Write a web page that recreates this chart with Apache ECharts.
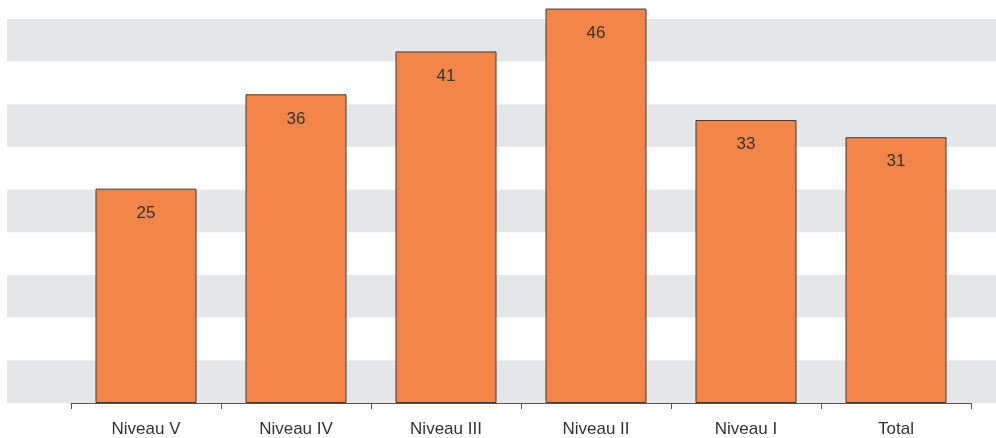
<!DOCTYPE html>
<html>
<head>
<meta charset="utf-8">
<script src="https://cdn.jsdelivr.net/npm/echarts@6/dist/echarts.min.js"></script>
<style>html,body{margin:0;padding:0;background:#fff;}#c{width:996px;height:438px;}</style>
</head>
<body>
<div id="c"></div>
<script>
var categories = ['Niveau V', 'Niveau IV', 'Niveau III', 'Niveau II', 'Niveau I', 'Total'];
var values = [25, 36, 41, 46, 33, 31];
var FONT = '"Liberation Sans Narrow", "Arial Narrow", "Liberation Sans", sans-serif';

var chart = echarts.init(document.getElementById('c'));
chart.setOption({
  animation: false,
  grid: [
    { left: 7, right: 0, top: 0, bottom: 35, containLabel: false },
    { left: 71, right: 25, top: 0, bottom: 35, containLabel: false }
  ],
  xAxis: [
    { gridIndex: 0, type: 'value', show: false, min: 0, max: 1 },
    {
      gridIndex: 1, type: 'category', data: categories,
      axisLine: { show: true, lineStyle: { color: '#555', width: 1 } },
      axisTick: { show: true, length: 6, lineStyle: { color: '#555' } },
      axisLabel: { color: '#333', fontSize: 17, fontFamily: FONT, margin: 18 }
    }
  ],
  yAxis: [
    {
      gridIndex: 0, type: 'value', min: 0, max: 47.2, interval: 5,
      axisLine: { show: false }, axisTick: { show: false }, axisLabel: { show: false },
      splitLine: { show: false },
      splitArea: { show: true, areaStyle: { color: ['#e5e6e8', '#ffffff'] } }
    },
    {
      gridIndex: 1, type: 'value', min: 0, max: 47,
      show: false, splitLine: { show: false }
    }
  ],
  series: [{
    type: 'bar',
    xAxisIndex: 1, yAxisIndex: 1,
    data: values,
    barWidth: 101,
    itemStyle: { color: '#f48549', borderColor: '#3b3b3b', borderWidth: 1 },
    label: {
      show: true, position: 'insideTop', distance: 16,
      color: '#333', fontSize: 17, fontFamily: FONT
    }
  }]
});
</script>
</body>
</html>
